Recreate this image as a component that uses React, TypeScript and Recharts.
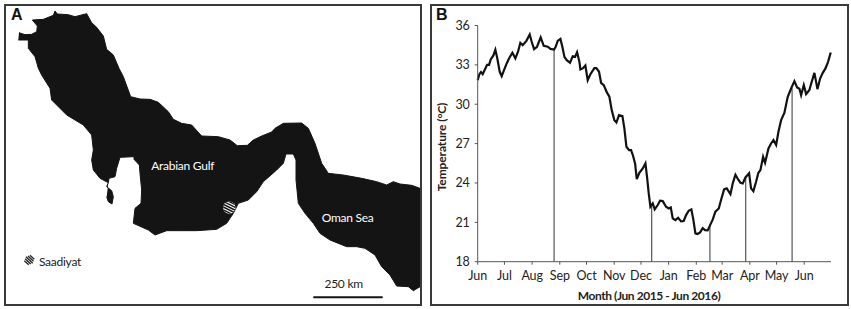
import React from 'react';
import { ScatterChart, Scatter, LineChart, Line, XAxis, YAxis, ReferenceLine } from 'recharts';

// Panel A: coast outline in map grid units
const coastX = [57,75,95,110,112,97,130,160,165,172,205,225,260,275,290,310,320,340,357,370,392,420,450,475,505,520,545,575,605,655,690,712,742,760,785,815,825,850,905,925,945,965,985,1030,1085,1130,1160,1180,1200,1235,1260,1260,1240,1225,1190,1170,1145,1125,1095,1070,1040,990,960,940,915,895,888,888,880,858,850,830,790,770,745,715,700,680,650,590,530,500,465,445,400,405,423,425,420,418,402,402,360,350,345,327,325,300,280,275,280,275,250,200,155,150,125,115,105,85,85,55];
const coastY = [98,104,103,95,78,60,58,46,33,42,44,50,41,68,82,108,148,165,205,230,290,297,298,307,335,358,370,375,408,410,420,437,436,420,408,396,385,370,369,385,430,490,520,525,535,545,555,545,552,556,565,860,872,860,858,825,800,765,745,740,740,720,700,670,640,610,540,480,462,462,490,510,545,575,600,610,640,670,688,692,692,692,705,690,670,625,610,570,520,495,478,470,472,505,530,535,548,535,510,480,450,405,375,345,300,265,225,205,170,145,120,120];
const islandX = [325,320,335,340,336,325,320];
const islandY = [548,560,572,590,612,605,590];
const placeNames = ['Arabian Gulf', 'Oman Sea'];
const placeX = [548, 1043];
const placeY = [497, 653];
const keyNames = ['Saadiyat', '250 km'];
const keyX = [180, 1031];
const keyY = [783, 850];
const siteX = [688];
const siteY = [623];
const keySwatchX = [88];
const keySwatchY = [780];
const scaleBarX = [940, 1148];
const scaleBarY = [892, 892];

// Panel B: temperature series
const days = [0,1.9,3.7,5.6,8.2,10.5,12.7,14.6,17.6,19.8,22,24.7,26.9,29.5,32.5,35.1,38.9,42.2,45.2,47.8,50.4,54.6,58.3,60.5,63.2,66.5,70.6,74,78.5,81.5,85.6,87.4,89.7,92.7,94.9,97.2,99.8,103.5,106.5,109.1,111.4,114,115.1,117.7,120.7,123.3,126.3,130.8,133,136,138.3,141.3,144.6,147.6,150.2,153.2,155.5,158.4,162.2,164.4,166.7,169.7,171.9,173.8,176.4,178.3,181.2,185,188,189.8,191.7,193.6,196.2,198.4,201.8,204.4,207.4,211.1,214.1,216.4,218.6,221.6,224.6,228,230.9,233.6,236.5,239.5,241.8,244,246.3,249.3,252.2,254.9,257.8,260.5,263.5,266.4,270.2,273.2,276.2,279.1,283.3,285.9,288.9,291.9,294.5,297.1,300.1,304.2,306.4,309,312,314.6,316.9,319.9,322.1,325.9,328.8,331.5,334.5,337.1,340.1,343.8,347.5,351.3,355,358,360.6,362.5,365.5,368.1,371.8,374.4,377.4,380.8,383.8,386.8,389.8,392.7,395.7];
const temps = [31.84,32.29,32.45,32.29,32.67,33,33,33.41,33.72,34.15,33.49,32.47,32.14,32.6,33.11,33.49,33.92,33.49,34,34.68,34.5,34.83,35.31,34.76,34.2,34.38,35.09,34.45,34.38,34.22,34.17,34.38,34.83,34.98,34.38,33.61,33.36,33.16,33.66,33.61,33.97,33.23,32.65,32.73,32.95,31.84,32.29,32.75,32.75,32.47,31.63,31.46,30.92,30.57,29.55,28.79,28.61,29.17,29.09,28.16,26.76,26.5,26.5,26.15,25.49,24.3,24.78,25.11,25.49,24.47,23.2,22.19,22.44,21.99,22.32,22.65,22.62,22.19,22.06,22.14,21.3,21.17,21.35,21.07,21.1,21.55,21.88,21.99,21.17,20.16,20.11,20.23,20.56,20.41,20.39,20.79,21.22,21.81,22.06,22.82,23.51,23.59,23.15,23.97,24.63,24.27,24.02,23.97,24.42,24.73,23.59,23.38,24.09,24.78,24.98,26,25.54,26.63,27.01,27.27,26.89,27.9,28.79,29.35,30.57,31.2,31.76,31.28,31.18,30.69,31.46,30.77,31.08,31.71,32.39,31.15,31.96,32.39,32.73,33.23,33.94];
const monthTicks = [0,30,61,92,122,153,183,214,245,274,305,335,366];
const monthLabels = ['Jun','Jul','Aug','Sep','Oct','Nov','Dec','Jan','Feb','Mar','Apr','May','Jun'];
const tempTicks = [18,21,24,27,30,33,36];
const dropDays = [85.6,195,260.3,300.4,352.4];
const dropTemps = [34.17,22.2,20.8,24.42,31.2];

const zip = (xs: number[], ys: number[], names?: string[]) =>
  xs.map((x, i) => ({ x, y: ys[i], name: names ? names[i] : '' }));
const series = days.map((day, i) => ({ day, temp: temps[i] }));

const FONT = 'Lato, sans-serif';
const INK = '#141414';
const nothing = () => <g />;

const SiteMark = (p: any) => (
  <g>
    <clipPath id="siteClip"><circle cx={p.cx} cy={p.cy} r={6.2} /></clipPath>
    <circle cx={p.cx} cy={p.cy} r={6.2} fill="#fff" />
    <g clipPath="url(#siteClip)" stroke={INK} strokeWidth={1.4}>
      {[-6, -3.2, -0.4, 2.4, 5.2].map((o) => (
        <line key={o} x1={p.cx - 8} y1={p.cy + o - 4} x2={p.cx + 8} y2={p.cy + o + 4} />
      ))}
    </g>
  </g>
);
const KeySwatch = (p: any) => (
  <g stroke="#222" strokeWidth={1.3}>
    {[-4, -2, 0, 2, 4].map((o) => (
      <line
        key={o}
        x1={p.cx + o * 0.7 - 3.4 + Math.abs(o) * 0.3}
        y1={p.cy - o * 0.7 - 3.2 + Math.abs(o) * 0.3}
        x2={p.cx + o * 0.7 + 3.4 - Math.abs(o) * 0.3}
        y2={p.cy - o * 0.7 + 3.2 - Math.abs(o) * 0.3}
      />
    ))}
  </g>
);
const textShape = (fill: string) => (p: any) => (
  <text x={p.cx} y={p.cy} fill={fill} fontSize={12} letterSpacing={-0.25} fontFamily={FONT} textAnchor="middle" dominantBaseline="central">
    {p.payload.name}
  </text>
);

const frame = (left: number, width: number): React.CSSProperties => ({
  position: 'absolute', left, top: 4, width, height: 298, border: '2px solid #3a3a3a', pointerEvents: 'none',
});
const letter = (left: number): React.CSSProperties => ({
  position: 'absolute', left, top: 6, fontFamily: 'Liberation Sans, sans-serif', fontWeight: 700, fontSize: 16, color: '#111', lineHeight: '18px',
});
const tickStyle = { fontSize: 12.5, fontFamily: FONT, fill: '#222', letterSpacing: -0.1 };

export default function App() {
  return (
    <div style={{ position: 'absolute', left: 0, top: 0, width: 851, height: 309, background: '#fff', overflow: 'hidden' }}>
      <div style={{ position: 'absolute', left: 0, top: 0 }}>
        <ScatterChart width={420} height={309} margin={{ top: 0, right: 0, bottom: 0, left: 0 }}>
          <XAxis dataKey="x" type="number" domain={[0, 1260]} hide allowDataOverflow />
          <YAxis dataKey="y" type="number" domain={[0, 927]} reversed hide allowDataOverflow />
          <Scatter data={zip(coastX, coastY)} line={{ fill: INK, stroke: INK, strokeWidth: 1 }} shape={nothing} isAnimationActive={false} />
          <Scatter data={zip(islandX, islandY)} line={{ fill: INK, stroke: INK, strokeWidth: 1 }} shape={nothing} isAnimationActive={false} />
          <Scatter data={zip(scaleBarX, scaleBarY)} line={{ stroke: INK, strokeWidth: 2 }} shape={nothing} isAnimationActive={false} />
          <Scatter data={zip(placeX, placeY, placeNames)} shape={textShape('#fff')} isAnimationActive={false} />
          <Scatter data={zip(keyX, keyY, keyNames)} shape={textShape('#222')} isAnimationActive={false} />
          <Scatter data={zip(siteX, siteY)} shape={SiteMark} isAnimationActive={false} />
          <Scatter data={zip(keySwatchX, keySwatchY)} shape={KeySwatch} isAnimationActive={false} />
        </ScatterChart>
      </div>
      <div style={{ position: 'absolute', left: 425, top: 0 }}>
        <LineChart width={426} height={309} data={series} margin={{ top: 25.5, right: 20, bottom: 17.3, left: 22.7 }}>
          <XAxis
            dataKey="day" type="number" domain={[0, 396]} ticks={monthTicks} interval={0} height={30}
            tickFormatter={(d: number) => monthLabels[monthTicks.indexOf(d)]}
            tick={tickStyle} tickSize={3} tickMargin={6}
            axisLine={{ stroke: '#555' }} tickLine={{ stroke: '#555' }}
          />
          <YAxis
            dataKey="temp" type="number" domain={[18, 36]} ticks={tempTicks} interval={0} width={30}
            tick={tickStyle} tickSize={3} tickMargin={5}
            axisLine={{ stroke: '#555' }} tickLine={{ stroke: '#555' }}
          />
          {dropDays.map((d, i) => (
            <ReferenceLine key={d} segment={[{ x: d, y: 18 }, { x: d, y: dropTemps[i] }]} stroke="#555" strokeWidth={1.2} />
          ))}
          <Line dataKey="temp" type="linear" stroke="#111" strokeWidth={2.2} dot={false} isAnimationActive={false} />
        </LineChart>
      </div>
      <div style={{ position: 'absolute', left: 441, top: 147, transform: 'translate(-50%,-50%) rotate(-90deg)', whiteSpace: 'nowrap', fontFamily: FONT, fontWeight: 700, fontSize: 12, letterSpacing: -0.1, color: '#222' }}>Temperature (°C)</div>
      <div style={{ position: 'absolute', left: 649, top: 295, transform: 'translate(-50%,-50%)', whiteSpace: 'nowrap', fontFamily: FONT, fontWeight: 700, fontSize: 12, letterSpacing: -0.42, color: '#222' }}>Month (Jun 2015 - Jun 2016)</div>
      <div style={frame(4, 414)} />
      <div style={frame(430, 415)} />
      <div style={letter(11)}>A</div>
      <div style={letter(436)}>B</div>
    </div>
  );
}
